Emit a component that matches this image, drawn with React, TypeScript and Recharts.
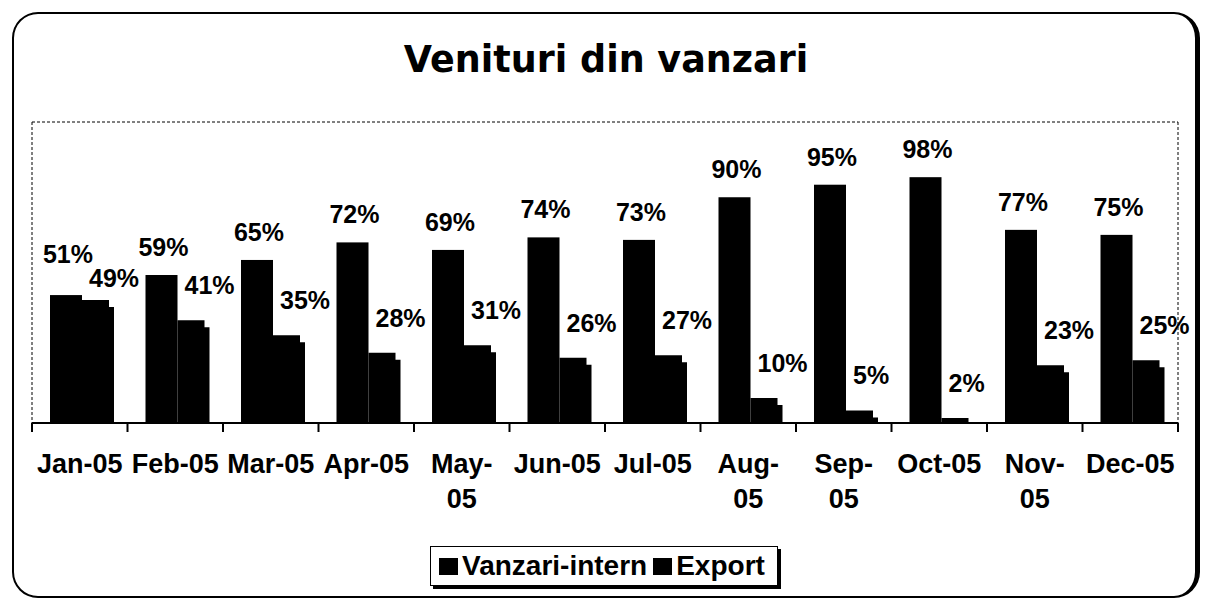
import React from "react";
import { BarChart, Bar, XAxis, YAxis, CartesianGrid, LabelList } from "recharts";

const months = [
  "Jan-05", "Feb-05", "Mar-05", "Apr-05", "May-05", "Jun-05",
  "Jul-05", "Aug-05", "Sep-05", "Oct-05", "Nov-05", "Dec-05",
];
const vanzariIntern = [51, 59, 65, 72, 69, 74, 73, 90, 95, 98, 77, 75];
const exportShare = [49, 41, 35, 28, 31, 26, 27, 10, 5, 2, 23, 25];
const wrappedMonths = ["May-05", "Aug-05", "Sep-05", "Nov-05"];
const seriesNames = ["Vanzari-intern", "Export"];
const valueDomain = [0, 120];
const chartTitle = "Venituri din vanzari";

const data = months.map((month, i) => ({
  month,
  intern: vanzariIntern[i],
  export: exportShare[i],
}));

const W = 1205;
const H = 599;
const LEFT = 32;
const RIGHT = 1178;
const TOP = 122;
const AXIS_Y = 423;
const BAND = (RIGHT - LEFT) / months.length;
const SHIFT = 2; // 3d projection pushes the columns a bit to the right
const FONT = "'Liberation Sans', Arial, sans-serif";
const INTERN_GAP = 19;
const EXPORT_GAP = 26;

const topOf = (v: number) =>
  AXIS_Y - ((v - valueDomain[0]) / (valueDomain[1] - valueDomain[0])) * (AXIS_Y - TOP);

// Excel pushes the two labels apart when they would sit on top of each other
const clash = (i: number) =>
  Math.abs(topOf(vanzariIntern[i]) - INTERN_GAP - (topOf(exportShare[i]) - EXPORT_GAP)) < 22;

const labelBox = (p: any) => {
  const vb = p.viewBox ?? p;
  return { x: Number(vb.x), y: Number(vb.y), w: Number(vb.width), h: Number(vb.height) };
};

const InternShape = (p: any) => (
  <rect x={p.x + SHIFT} y={p.y} width={p.width} height={p.height} fill="#000" />
);

// export column shows the little 3d step on its top right corner
const ExportShape = (p: any) => {
  const x = p.x + SHIFT;
  const { y, width: w, height: h } = p;
  const notch = Math.min(7, h);
  const d = `M${x},${y} H${x + w - 5} V${y + notch} H${x + w} V${y + h} H${x} Z`;
  return <path d={d} fill="#000" />;
};

const InternLabel = (p: any) => {
  const b = labelBox(p);
  const nudge = clash(p.index) ? -13 : 0;
  return (
    <text
      x={b.x + b.w / 2 + SHIFT + 2}
      y={b.y - INTERN_GAP + nudge}
      textAnchor="middle"
      fontFamily={FONT}
      fontWeight="bold"
      fontSize={25}
      fill="#000"
    >
      {p.value}%
    </text>
  );
};

const ExportLabel = (p: any) => {
  const b = labelBox(p);
  const nudge = clash(p.index) ? 13 : 0;
  return (
    <text
      x={b.x + SHIFT + 7}
      y={b.y - EXPORT_GAP + nudge}
      textAnchor="start"
      fontFamily={FONT}
      fontWeight="bold"
      fontSize={25}
      fill="#000"
    >
      {p.value}%
    </text>
  );
};

const MonthTick = (props: any) => {
  const { x, payload, index } = props;
  const value: string = payload.value;
  const cut = value.indexOf("-") + 1;
  const lines = wrappedMonths.includes(value) ? [value.slice(0, cut), value.slice(cut)] : [value];
  const left = x - BAND / 2;
  return (
    <g>
      <line x1={left} x2={left} y1={AXIS_Y} y2={AXIS_Y + 9} stroke="#000" strokeWidth={2} />
      {index === months.length - 1 && (
        <line x1={left + BAND} x2={left + BAND} y1={AXIS_Y} y2={AXIS_Y + 9} stroke="#000" strokeWidth={2} />
      )}
      {lines.map((line, i) => (
        <text
          key={i}
          x={x}
          y={AXIS_Y + 50 + i * 35}
          textAnchor="middle"
          fontFamily={FONT}
          fontWeight="bold"
          fontSize={27}
          fill="#000"
        >
          {line}
        </text>
      ))}
    </g>
  );
};

export default function App() {
  return (
    <div
      style={{
        position: "fixed",
        left: 0,
        top: 0,
        width: W,
        height: H,
        background: "#fff",
        overflow: "hidden",
      }}
    >
      <div
        style={{
          position: "absolute",
          left: 12,
          top: 12,
          width: 1188,
          height: 586,
          boxSizing: "border-box",
          border: "2px solid #000",
          borderRightWidth: 5,
          borderRadius: 26,
        }}
      />
      <svg width={W} height={100} style={{ position: "absolute", left: 0, top: 0 }}>
        <text
          x={606}
          y={72}
          textAnchor="middle"
          fontFamily="'DejaVu Sans', Verdana, sans-serif"
          fontWeight="bold"
          fontSize={36.5}
          fill="#000"
        >
          {chartTitle}
        </text>
      </svg>
      <div style={{ position: "absolute", left: 0, top: 0 }}>
        <BarChart
          width={W}
          height={H}
          data={data}
          margin={{ top: TOP, right: W - RIGHT, bottom: H - AXIS_Y - 60, left: LEFT }}
          barSize={32}
          barGap={0}
        >
          <CartesianGrid
            horizontalPoints={[TOP]}
            verticalPoints={[LEFT, RIGHT]}
            stroke="#000"
            strokeDasharray="3 2"
          />
          <XAxis
            dataKey="month"
            height={60}
            interval={0}
            axisLine={{ stroke: "#000", strokeWidth: 2 }}
            tickLine={false}
            tick={<MonthTick />}
          />
          <YAxis hide domain={valueDomain} />
          <Bar dataKey="intern" name={seriesNames[0]} shape={<InternShape />} isAnimationActive={false}>
            <LabelList dataKey="intern" content={<InternLabel />} />
          </Bar>
          <Bar dataKey="export" name={seriesNames[1]} shape={<ExportShape />} isAnimationActive={false}>
            <LabelList dataKey="export" content={<ExportLabel />} />
          </Bar>
        </BarChart>
      </div>
      <div
        style={{
          position: "absolute",
          left: 430,
          top: 546,
          width: 348,
          height: 40,
          boxSizing: "border-box",
          border: "1.5px solid #000",
          boxShadow: "3px 3px 0 #000",
          background: "#fff",
          display: "flex",
          alignItems: "center",
          paddingLeft: 8,
          fontFamily: FONT,
          fontWeight: "bold",
          fontSize: 28,
          color: "#000",
        }}
      >
        {seriesNames.map((name, i) => (
          <span key={name} style={{ display: "flex", alignItems: "center", marginRight: i === 0 ? 6 : 0 }}>
            <span style={{ width: 19, height: 17, background: "#000", marginRight: 4 }} />
            {name}
          </span>
        ))}
      </div>
    </div>
  );
}
